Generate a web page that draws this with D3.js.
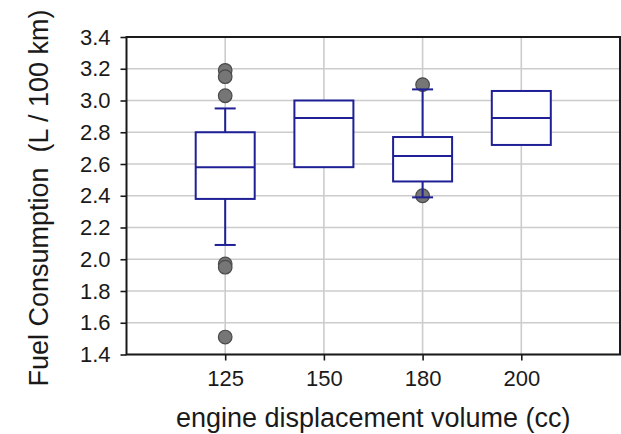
<!DOCTYPE html>
<html>
<head>
<meta charset="utf-8">
<script src="https://cdn.jsdelivr.net/npm/d3@7"></script>
<style>
  html, body { margin: 0; padding: 0; background: #fff; }
  svg { display: block; }
  text { font-family: "Liberation Sans", Arial, sans-serif; fill: #1a1a1a; }
</style>
</head>
<body>
<svg id="chart" width="621" height="434"></svg>
<script>
// Fuel consumption by engine displacement — box-and-whisker summary
const categories   = ["125", "150", "180", "200"];
const q1           = [2.38, 2.58, 2.49, 2.72];
const medians      = [2.58, 2.89, 2.65, 2.89];
const q3           = [2.80, 3.00, 2.77, 3.06];
const whiskerLow   = [2.09, 2.58, 2.39, 2.72];
const whiskerHigh  = [2.95, 3.00, 3.07, 3.06];
const outlierCat   = ["125", "125", "125", "125", "125", "125", "180", "180"];
const outlierVal   = [3.19, 3.15, 3.03, 1.97, 1.95, 1.51, 3.10, 2.40];
const yTicks       = [1.4, 1.6, 1.8, 2.0, 2.2, 2.4, 2.6, 2.8, 3.0, 3.2, 3.4];

const svg = d3.select("#chart");
const plotL = 126.5, plotR = 620, plotT = 37, plotB = 354.5;

const x = d3.scalePoint().domain(categories).range([plotL, plotR]).padding(1);
const y = d3.scaleLinear().domain([1.4, 3.4]).range([plotB, plotT]);

const boxW = 59, capW = 21;
const boxColor = "#1f1f96";

// grid
const grid = svg.append("g");
grid.selectAll("line.h").data(yTicks).join("line")
  .attr("class", "h")
  .attr("x1", plotL).attr("x2", plotR)
  .attr("y1", d => y(d)).attr("y2", d => y(d))
  .attr("stroke", "#cccccc").attr("stroke-width", 1.6);
grid.selectAll("line.v").data(categories).join("line")
  .attr("class", "v")
  .attr("x1", d => x(d)).attr("x2", d => x(d))
  .attr("y1", plotT).attr("y2", plotB)
  .attr("stroke", "#cccccc").attr("stroke-width", 1.6);

// outliers
svg.append("g").selectAll("circle").data(outlierVal).join("circle")
  .attr("cx", (d, i) => x(outlierCat[i]))
  .attr("cy", d => y(d))
  .attr("r", 6.8)
  .attr("fill", "#767676")
  .attr("stroke", "#4a4a4a")
  .attr("stroke-width", 1.2);

// boxes and whiskers
const boxes = svg.append("g").selectAll("g").data(categories).join("g");
boxes.append("line")
  .attr("x1", d => x(d)).attr("x2", d => x(d))
  .attr("y1", (d, i) => y(whiskerHigh[i])).attr("y2", (d, i) => y(q3[i]))
  .attr("stroke", boxColor).attr("stroke-width", 2);
boxes.append("line")
  .attr("x1", d => x(d)).attr("x2", d => x(d))
  .attr("y1", (d, i) => y(q1[i])).attr("y2", (d, i) => y(whiskerLow[i]))
  .attr("stroke", boxColor).attr("stroke-width", 2);
boxes.filter((d, i) => whiskerHigh[i] > q3[i]).append("line")
  .attr("x1", d => x(d) - capW / 2).attr("x2", d => x(d) + capW / 2)
  .attr("y1", d => y(whiskerHigh[categories.indexOf(d)]))
  .attr("y2", d => y(whiskerHigh[categories.indexOf(d)]))
  .attr("stroke", boxColor).attr("stroke-width", 2);
boxes.filter((d, i) => whiskerLow[i] < q1[i]).append("line")
  .attr("x1", d => x(d) - capW / 2).attr("x2", d => x(d) + capW / 2)
  .attr("y1", d => y(whiskerLow[categories.indexOf(d)]))
  .attr("y2", d => y(whiskerLow[categories.indexOf(d)]))
  .attr("stroke", boxColor).attr("stroke-width", 2);
boxes.append("rect")
  .attr("x", d => x(d) - boxW / 2)
  .attr("y", (d, i) => y(q3[i]))
  .attr("width", boxW)
  .attr("height", (d, i) => y(q1[i]) - y(q3[i]))
  .attr("fill", "#ffffff").attr("stroke", boxColor).attr("stroke-width", 2);
boxes.append("line")
  .attr("x1", d => x(d) - boxW / 2).attr("x2", d => x(d) + boxW / 2)
  .attr("y1", (d, i) => y(medians[i])).attr("y2", (d, i) => y(medians[i]))
  .attr("stroke", boxColor).attr("stroke-width", 2);

// frame
svg.append("rect")
  .attr("x", plotL).attr("y", plotT)
  .attr("width", plotR - plotL).attr("height", plotB - plotT)
  .attr("fill", "none").attr("stroke", "#1a1a1a").attr("stroke-width", 2);

// axes
const yAxis = svg.append("g").attr("transform", `translate(${plotL},0)`)
  .call(d3.axisLeft(y).tickValues(yTicks).tickFormat(d3.format(".1f")).tickSize(6).tickSizeOuter(0).tickPadding(10));
const xAxis = svg.append("g").attr("transform", `translate(0,${plotB})`)
  .call(d3.axisBottom(x).tickSize(6).tickSizeOuter(0).tickPadding(10));
[yAxis, xAxis].forEach(a => {
  a.select(".domain").remove();
  a.selectAll(".tick line").attr("stroke", "#1a1a1a").attr("stroke-width", 1.6);
  a.selectAll(".tick text").attr("fill", "#1a1a1a")
    .style("font-size", "22px").style("font-family", "'Liberation Sans', Arial, sans-serif");
});

// axis titles
svg.append("text")
  .attr("x", (plotL + plotR) / 2).attr("y", 427)
  .attr("text-anchor", "middle")
  .style("font-size", "27px")
  .text("engine displacement volume (cc)");
svg.append("text")
  .attr("transform", `translate(48,198) rotate(-90)`)
  .attr("text-anchor", "middle")
  .style("font-size", "27px")
  .style("white-space", "pre")
  .text("Fuel Consumption  (L / 100 km)");
</script>
</body>
</html>
